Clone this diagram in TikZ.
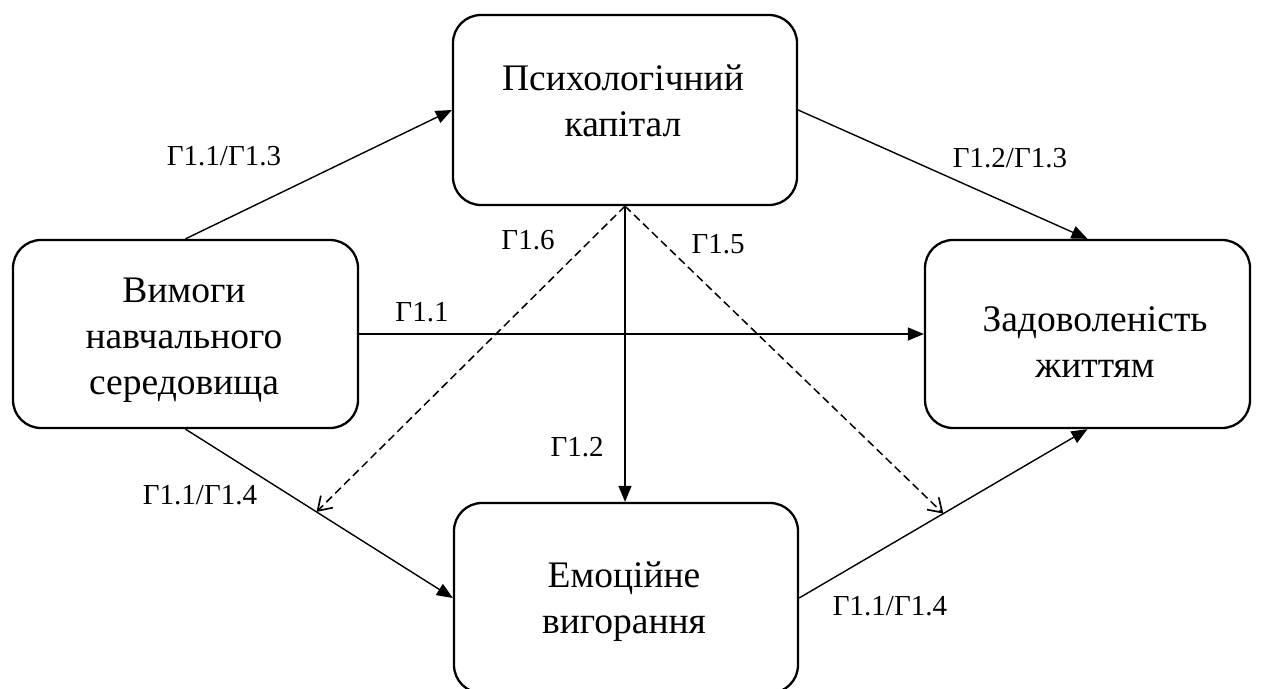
\documentclass[tikz,border=0pt]{standalone}
\usepackage{fontspec}
\setmainfont{Liberation Serif}
\usetikzlibrary{arrows.meta,calc}
\begin{document}
\begin{tikzpicture}[x=1pt,y=-1pt,
  box/.style={draw, line width=2.3pt, rounded corners=28pt, inner sep=0pt},
  boxtext/.style={align=center, inner sep=0pt, font=\fontsize{37.5}{46}\selectfont},
  lab/.style={inner sep=0pt, font=\fontsize{29}{32}\selectfont},
  conn/.style={line width=1.4pt, -{Triangle[length=16pt,width=13pt]}},
  dconn/.style={line width=1.5pt, dash pattern=on 8pt off 4.5pt, -{Straight Barb[length=13pt,width=17pt,line width=1.7pt]}}]
\useasboundingbox (0,0) rectangle (1263,688);
\fill[white] (0,0) rectangle (1263,688);
% boxes
\node[box, minimum width=345pt, minimum height=188pt] (L) at (185.5,334) {};
\node[box, minimum width=344pt, minimum height=190pt] (P) at (625,110) {};
\node[box, minimum width=325pt, minimum height=188pt] (Z) at (1087.5,334) {};
\node[box, minimum width=344pt, minimum height=190pt] (E) at (626,598) {};
% box texts
\node[boxtext] (tL) at (184,340) {Вимоги\\навчального\\середовища};
\node[boxtext] (tP) at (623,101) {Психологічний\\капітал};
\node[boxtext] (tZ) at (1095,342) {Задоволеність\\життям};
\node[boxtext] (tE) at (624,602) {Емоційне\\вигорання};
% helper coordinates on connectors
\coordinate (m1) at ($(L.south)!0.49!(E.west)$);
\coordinate (m2) at ($(E.east)!0.5!(Z.south)$);
% connectors
\draw[conn] (L.north) -- (P.west);
\draw[conn] (P.east) -- (Z.north);
\draw[conn] (L.east) -- (Z.west);
\draw[conn] (L.south) -- (E.west);
\draw[conn] (E.east) -- (Z.south);
\draw[conn] (P.south) -- (P.south |- E.north);
\draw[dconn] (P.south) -- (m1);
\draw[dconn] (P.south) -- (m2);
% labels
\node[lab] (a1) at (224,156) {Г1.1/Г1.3};
\node[lab] (a2) at (1010,158) {Г1.2/Г1.3};
\node[lab] (a3) at (528,240) {Г1.6};
\node[lab] (a4) at (718,244) {Г1.5};
\node[lab] (a5) at (422,312) {Г1.1};
\node[lab] (a6) at (577,447) {Г1.2};
\node[lab] (a7) at (200,495) {Г1.1/Г1.4};
\node[lab] (a8) at (890,606) {Г1.1/Г1.4};
\end{tikzpicture}
\end{document}
